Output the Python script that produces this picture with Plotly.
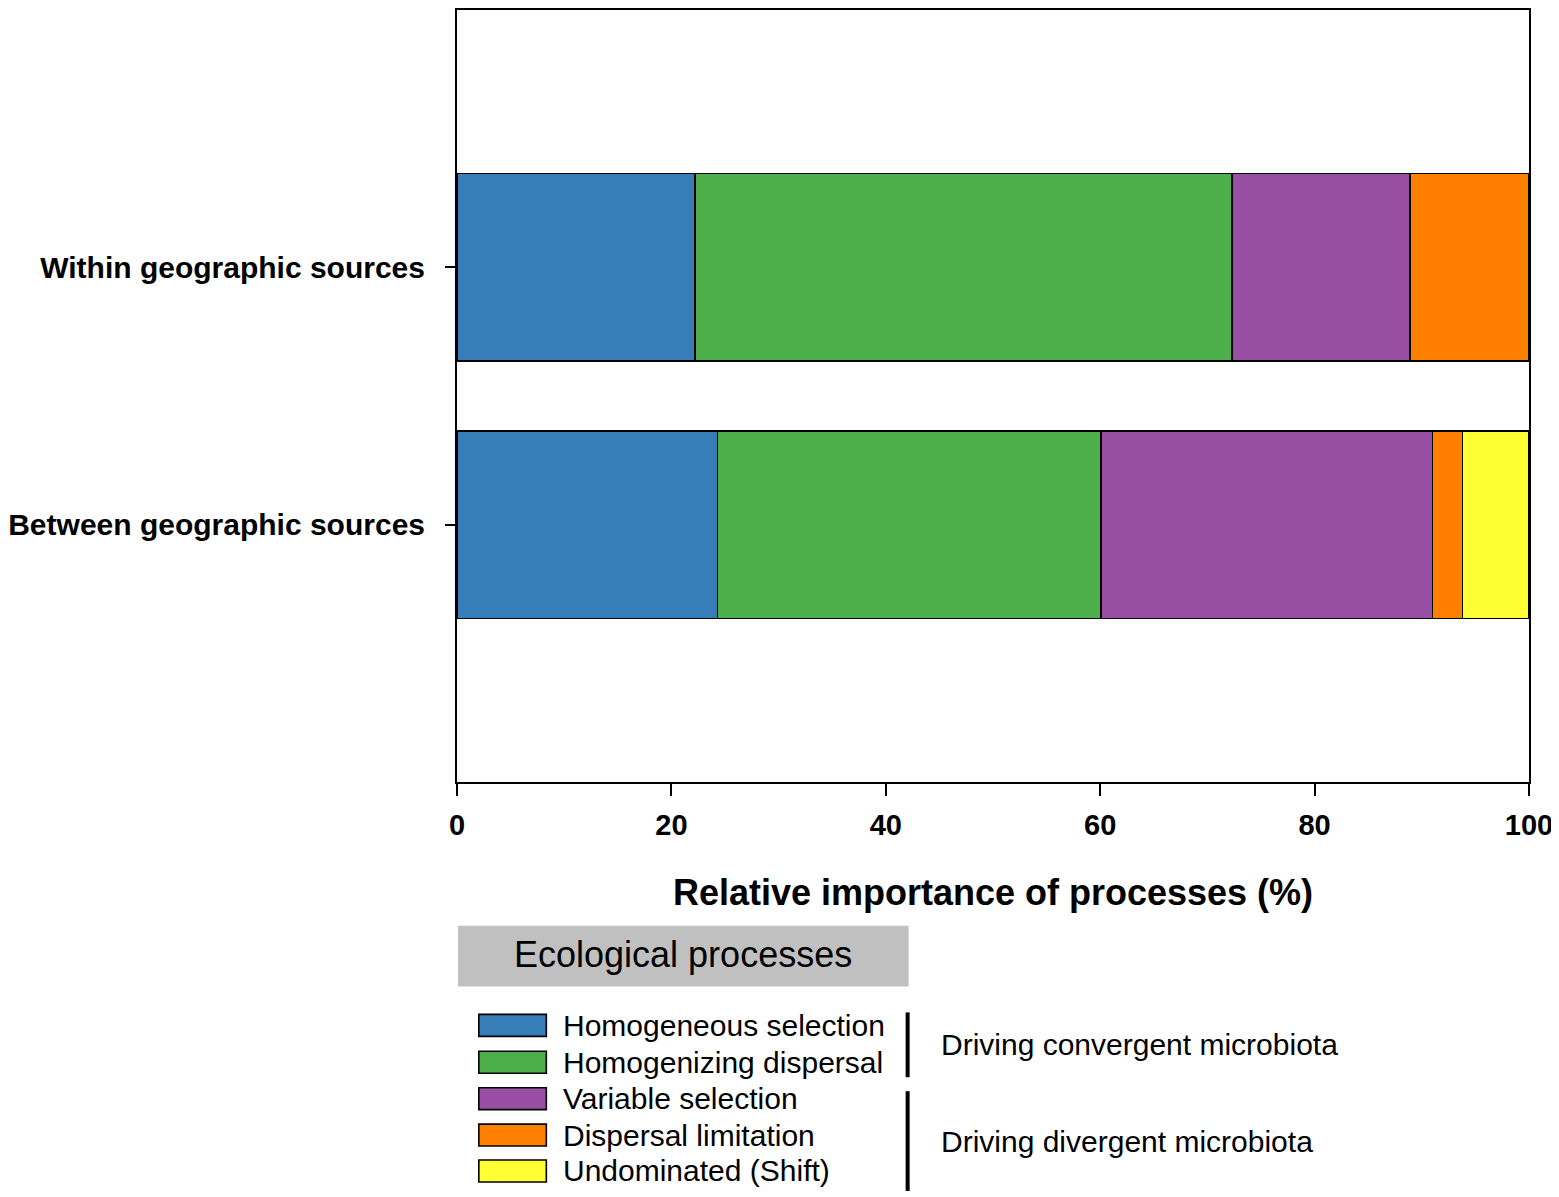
import plotly.graph_objects as go

groups = ["Between geographic sources", "Within geographic sources"]
processes = ["Homogeneous selection", "Homogenizing dispersal", "Variable selection",
             "Dispersal limitation", "Undominated (Shift)"]
colors = ["#377eb8", "#4daf4a", "#984ea3", "#ff7f00", "#ffff33"]
# percentages per process, [between, within]
values = [
    [24.3, 22.2],
    [35.8, 50.1],
    [30.9, 16.6],
    [2.8, 11.1],
    [6.2, 0.0],
]
tick_vals = [0, 20, 40, 60, 80, 100]
xaxis_title = "Relative importance of processes (%)"
legend_title = "Ecological processes"
legend_groups = [("Driving convergent microbiota", 0, 1), ("Driving divergent microbiota", 2, 4)]

# page body has an 8px margin, so the figure is a bit smaller than the window
W, H = 1551, 1189
L, R, T, B = 441, 30, 0, 415
FONT = "Liberation Sans, Arial, sans-serif"
OFFX, OFFY = 10, 8


def px(x):
    # screen pixel -> paper x
    return (x - OFFX - L) / (W - L - R)


def py(y):
    # screen pixel -> paper y
    return (H - B - (y - OFFY)) / (H - T - B)


fig = go.Figure()
for name, vals, c in zip(processes, values, colors):
    fig.add_trace(go.Bar(
        y=groups, x=vals, name=name, orientation="h",
        marker=dict(color=c, line=dict(color="black", width=1.6)),
        width=0.73, showlegend=False,
    ))

shapes = []
annotations = []

# legend header box
shapes.append(dict(type="rect", xref="paper", yref="paper",
                   x0=px(452), x1=px(906), y0=py(987), y1=py(926),
                   fillcolor="#c0c0c0", line=dict(width=0), layer="below"))
annotations.append(dict(xref="paper", yref="paper", x=px(679), y=py(955),
                        text=legend_title, showarrow=False,
                        font=dict(family=FONT, size=36, color="black"),
                        xanchor="center", yanchor="middle"))

row_y = [1026, 1063, 1099.5, 1136, 1172]
for i, (name, c) in enumerate(zip(processes, colors)):
    yc = row_y[i]
    shapes.append(dict(type="rect", xref="paper", yref="paper",
                       x0=px(473), x1=px(541), y0=py(yc + 11), y1=py(yc - 11),
                       fillcolor=c, line=dict(color="black", width=1.6)))
    annotations.append(dict(xref="paper", yref="paper", x=px(556), y=py(yc),
                            text=name, showarrow=False,
                            font=dict(family=FONT, size=30, color="black"),
                            xanchor="left", yanchor="middle"))

bar_spans = [(1013, 1078), (1092, 1192)]
for (label, a, b), (y0, y1) in zip(legend_groups, bar_spans):
    shapes.append(dict(type="line", xref="paper", yref="paper",
                       x0=px(905), x1=px(905), y0=py(y0), y1=py(y1),
                       line=dict(color="black", width=4)))
    annotations.append(dict(xref="paper", yref="paper", x=px(937), y=py((y0 + y1) / 2),
                            text=label, showarrow=False,
                            font=dict(family=FONT, size=30, color="black"),
                            xanchor="left", yanchor="middle"))

fig.update_layout(
    barmode="stack",
    width=W, height=H,
    margin=dict(l=L, r=R, t=T, b=B),
    paper_bgcolor="white", plot_bgcolor="white",
    font=dict(family=FONT, color="black"),
    shapes=shapes, annotations=annotations,
)
fig.update_xaxes(
    range=[0, 100], tickvals=tick_vals, showgrid=False, zeroline=False,
    showline=True, linecolor="black", linewidth=2, mirror=True,
    ticks="outside", ticklen=12, tickwidth=2, tickcolor="black",
    tickfont=dict(family=FONT, size=29, weight="bold"),
    ticklabelstandoff=4,
    title=dict(text=xaxis_title, standoff=40,
               font=dict(family=FONT, size=36, weight="bold")),
)
fig.update_yaxes(
    range=[-1, 2], showgrid=False, zeroline=False,
    showline=True, linecolor="black", linewidth=2, mirror=True,
    ticks="outside", ticklen=10, tickwidth=2, tickcolor="black",
    tickfont=dict(family=FONT, size=30, weight="bold"),
    ticklabelstandoff=14,
)

fig.write_html("out.html")
